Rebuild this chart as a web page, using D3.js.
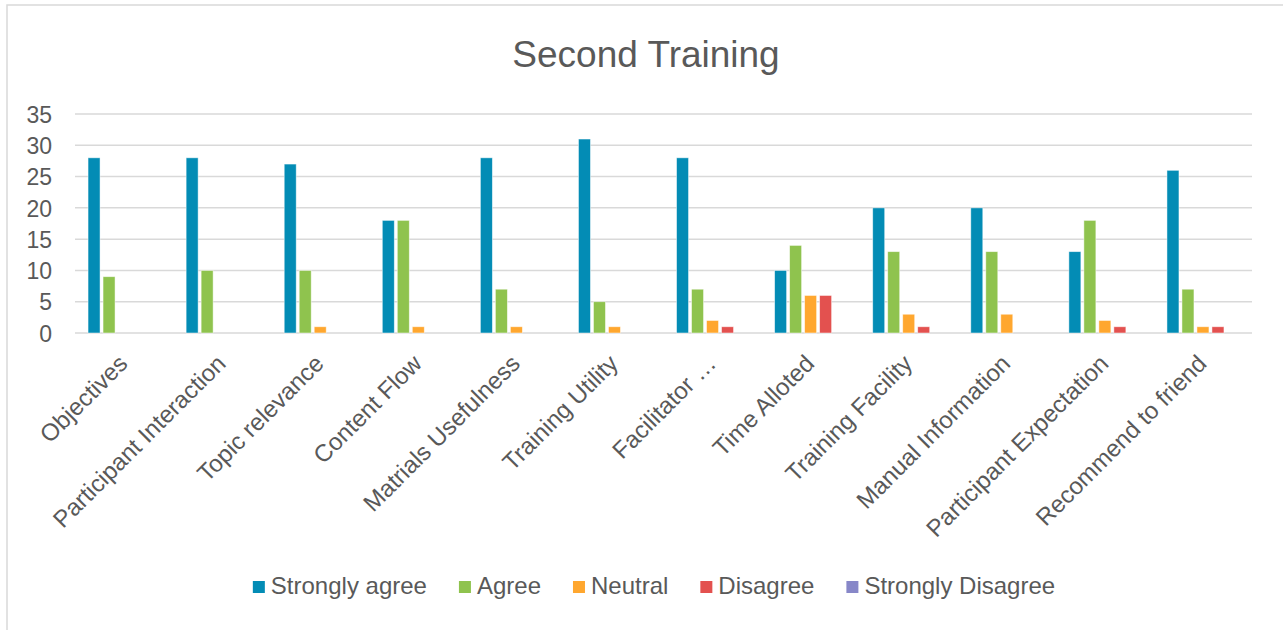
<!DOCTYPE html>
<html>
<head>
<meta charset="utf-8">
<script src="https://cdn.jsdelivr.net/npm/d3@7"></script>
<style>
    body { margin: 0; background: #fff; }
    svg { display: block; font-family: "Liberation Sans", Arial, sans-serif; }
</style>
</head>
<body>
<div id="chart"></div>
<script>
// chart data
var categories = ["Objectives", "Participant Interaction", "Topic relevance", "Content Flow",
    "Matrials Usefulness", "Training Utility", "Facilitator …", "Time Alloted",
    "Training Facility", "Manual Information", "Participant Expectation", "Recommend to friend"];
var seriesNames = ["Strongly agree", "Agree", "Neutral", "Disagree", "Strongly Disagree"];
var stronglyAgree = [28, 28, 27, 18, 28, 31, 28, 10, 20, 20, 13, 26];
var agree = [9, 10, 10, 18, 7, 5, 7, 14, 13, 13, 18, 7];
var neutral = [0, 0, 1, 1, 1, 1, 2, 6, 3, 3, 2, 1];
var disagree = [0, 0, 0, 0, 0, 0, 1, 6, 1, 0, 1, 1];
var stronglyDisagree = [0, 0, 0, 0, 0, 0, 0, 0, 0, 0, 0, 0];
var yTicks = [0, 5, 10, 15, 20, 25, 30, 35];
var colors = ["#038cb5", "#8fc34e", "#ffa72f", "#e3514f", "#8787c8"];

var series = [stronglyAgree, agree, neutral, disagree, stronglyDisagree];
var width = 1283, height = 630;
var plot = { left: 75, right: 1252, top: 114, bottom: 333 };
var textColor = "#595959";

var svg = d3.select("#chart").append("svg")
    .attr("width", width)
    .attr("height", height);

// chart frame (only top and left edges show in the window)
svg.append("rect")
    .attr("x", 7).attr("y", 5)
    .attr("width", 1300).attr("height", 700)
    .attr("fill", "#fff")
    .attr("stroke", "#d9d9d9")
    .attr("stroke-width", 1.5);

svg.append("text")
    .attr("x", 646).attr("y", 67)
    .attr("text-anchor", "middle")
    .attr("font-size", 37)
    .attr("fill", textColor)
    .text("Second Training");

var x = d3.scaleBand().domain(categories).range([plot.left, plot.right]);
var y = d3.scaleLinear().domain([0, 35]).range([plot.bottom, plot.top]);
var pitch = 15, barWidth = 12;

// gridlines
svg.append("g").attr("class", "grid")
    .selectAll("line")
    .data(yTicks)
    .enter().append("line")
    .attr("x1", plot.left).attr("x2", plot.right)
    .attr("y1", function (d) { return y(d); })
    .attr("y2", function (d) { return y(d); })
    .attr("stroke", "#d9d9d9")
    .attr("stroke-width", 1.5);

// y axis labels
var yAxis = d3.axisLeft(y).tickValues(yTicks).tickSize(0).tickPadding(0);
var gY = svg.append("g")
    .attr("transform", "translate(52,0)")
    .call(yAxis);
gY.select(".domain").remove();
gY.selectAll("text")
    .attr("font-size", 23)
    .attr("font-family", "Liberation Sans, Arial, sans-serif")
    .attr("fill", textColor)
    .attr("dy", "0.36em");

// bars
series.forEach(function (values, si) {
    svg.append("g").attr("class", "series-" + si)
        .selectAll("rect")
        .data(values.map(function (v, i) { return { cat: categories[i], value: v }; })
            .filter(function (d) { return d.value > 0; }))
        .enter().append("rect")
        .attr("x", function (d) {
            return x(d.cat) + x.bandwidth() / 2 + (si - 2) * pitch - barWidth / 2;
        })
        .attr("y", function (d) { return y(d.value); })
        .attr("width", barWidth)
        .attr("height", function (d) { return y(0) - y(d.value); })
        .attr("fill", colors[si])
        .attr("stroke", "rgba(255,255,255,0.6)")
        .attr("stroke-width", 0.8);
});

// x axis labels, rotated
var xAxis = d3.axisBottom(x).tickSize(0).tickPadding(0);
var gX = svg.append("g")
    .attr("transform", "translate(0," + plot.bottom + ")")
    .call(xAxis);
gX.select(".domain").remove();
gX.selectAll("text")
    .attr("font-size", 24)
    .attr("font-family", "Liberation Sans, Arial, sans-serif")
    .attr("fill", textColor)
    .attr("text-anchor", "end")
    .attr("dy", 0)
    .attr("y", 0)
    .attr("transform", "translate(5,32) rotate(-45)");

// legend
var legend = svg.append("g").attr("class", "legend");
var items = legend.selectAll("g")
    .data(seriesNames)
    .enter().append("g");
items.append("rect")
    .attr("width", 12).attr("height", 12)
    .attr("y", -13)
    .attr("fill", function (d, i) { return colors[i]; });
items.append("text")
    .attr("x", 18)
    .attr("font-size", 24)
    .attr("fill", textColor)
    .text(function (d) { return d; });

var offset = 0, gap = 32;
items.each(function () {
    var g = d3.select(this);
    g.attr("transform", "translate(" + offset + ",0)");
    offset += 18 + g.select("text").node().getComputedTextLength() + gap;
});
var legendWidth = offset - gap;
legend.attr("transform", "translate(" + (654 - legendWidth / 2) + ",594)");
</script>
</body>
</html>
